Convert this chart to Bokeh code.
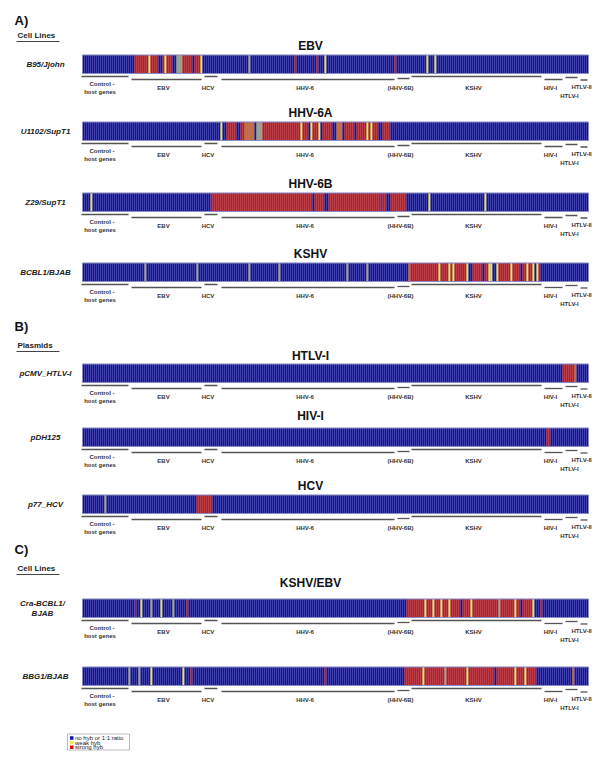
from bokeh.plotting import figure
from bokeh.models import Range1d, ColumnDataSource
from bokeh.core.properties import value
from bokeh.embed import file_html
from bokeh.resources import INLINE

# ---------------- data ----------------
N_COLS = 253  # probes (columns) per array strip

# genome groups: (label, first column, last column)
groups = ["Control -\nhost genes", "EBV", "HCV", "HHV-6", "(HHV-6B)", "KSHV", "HIV-I", "HTLV-I", "HTLV-II"]
group_start = [-1, 24, 60.5, 69, 157, 164, 230.5, 241, 248.5]
group_end = [23.5, 60, 68, 156.5, 164, 230, 240.5, 248, 253]

# hybridisation classes: B = no hyb or 1:1, Y = weak hyb, R = strong hyb,
# G = faint/grey probe, O = orange (mixed), P = purple (mixed)
class_color = {"B": "#1212aa", "Y": "#f0e640", "R": "#d41210", "G": "#a4a47c",
               "O": "#e2601a", "P": "#86187e"}

sample_names = ["B95/Jjohn", "U1102/SupT1", "Z29/SupT1", "BCBL1/BJAB",
                "pCMV_HTLV-I", "pDH125", "p77_HCV", "Cra-BCBL1/\nBJAB", "BBG1/BJAB"]
virus_titles = ["EBV", "HHV-6A", "HHV-6B", "KSHV", "HTLV-I", "HIV-I", "HCV", "KSHV/EBV", ""]

# non-blue runs per strip: (first col, last col, class)
runs_b95 = [(26, 32, "R"), (33, 33, "Y"), (34, 37, "R"), (38, 39, "B"), (40, 40, "R"),
            (41, 41, "Y"), (42, 44, "R"), (47, 49, "G"), (50, 54, "R"), (55, 55, "B"),
            (56, 58, "R"), (59, 59, "Y"), (83, 83, "G"), (106, 106, "R"), (117, 117, "R"),
            (121, 121, "Y"), (156, 156, "R"), (172, 172, "Y"), (176, 176, "Y")]
runs_u1102 = [(69, 69, "Y"), (72, 76, "R"), (79, 80, "R"), (81, 85, "O"), (87, 89, "G"),
              (90, 97, "R"), (98, 108, "R"), (109, 109, "Y"), (110, 112, "R"), (114, 114, "Y"),
              (115, 117, "R"), (118, 118, "Y"), (120, 124, "R"), (127, 129, "O"),
              (131, 135, "R"), (137, 141, "R"), (142, 142, "Y"), (143, 143, "R"),
              (144, 144, "Y"), (145, 147, "R"), (150, 153, "R")]
runs_z29 = [(4, 4, "Y"), (64, 64, "P"), (65, 114, "R"), (116, 120, "R"), (123, 148, "R"),
            (149, 149, "P"), (150, 151, "R"), (154, 161, "R"), (173, 173, "Y"), (201, 201, "Y")]
runs_bcbl1 = [(31, 31, "G"), (57, 57, "G"), (83, 83, "G"), (98, 98, "G"), (132, 132, "G"),
              (142, 142, "G"), (163, 163, "O"), (164, 177, "R"), (178, 178, "Y"),
              (179, 182, "R"), (183, 183, "Y"), (184, 184, "R"), (185, 185, "Y"),
              (186, 191, "R"), (192, 192, "Y"), (195, 199, "R"), (201, 202, "R"),
              (203, 203, "Y"), (204, 204, "Y"), (207, 207, "Y"), (208, 213, "R"),
              (214, 214, "Y"), (215, 218, "R"), (220, 221, "R"), (222, 222, "Y"),
              (223, 224, "R"), (225, 225, "Y"), (227, 227, "Y"), (228, 228, "R")]
runs_pcmv = [(240, 245, "R"), (246, 246, "O")]
runs_pdh125 = [(232, 233, "R")]
runs_p77 = [(11, 11, "G"), (57, 64, "R")]
runs_cra = [(26, 26, "P"), (29, 29, "Y"), (34, 34, "G"), (39, 39, "Y"), (45, 45, "G"),
            (52, 52, "R"), (162, 170, "R"), (171, 171, "Y"), (172, 174, "R"), (175, 175, "Y"),
            (176, 178, "R"), (179, 179, "Y"), (180, 182, "R"), (183, 183, "Y"), (184, 188, "R"),
            (190, 193, "R"), (194, 194, "Y"), (195, 207, "R"), (208, 208, "G"), (209, 215, "R"),
            (216, 216, "Y"), (217, 218, "R"), (220, 224, "R"), (225, 225, "Y"), (229, 229, "R")]
runs_bbg1 = [(23, 23, "G"), (28, 28, "G"), (34, 34, "Y"), (50, 50, "Y"), (54, 54, "R"),
             (121, 121, "R"), (161, 169, "R"), (170, 170, "Y"), (171, 180, "R"), (181, 181, "G"),
             (182, 191, "R"), (192, 192, "Y"), (193, 205, "R"), (206, 206, "B"), (207, 215, "R"),
             (216, 216, "Y"), (217, 220, "R"), (221, 221, "Y"), (222, 226, "R"), (245, 245, "O")]
strip_runs = [runs_b95, runs_u1102, runs_z29, runs_bcbl1, runs_pcmv, runs_pdh125,
              runs_p77, runs_cra, runs_bbg1]

legend_labels = ["no hyb or 1:1 ratio", "weak hyb", "strong hyb"]
legend_classes = ["B", "Y", "R"]

# ---------------- layout (page pixels) ----------------
strip_top = [54.5, 121.5, 192.5, 262.5, 363.5, 427.5, 494.5, 598.5, 666.5]
strip_h = 18.5
title_y = [45, 112, 183, 253, 355, 415, 485, 582, None]
line_off = [3, 6, 3, 6, 5, 3, 6, 4, 6.5]
sections = [("A)", 19.5, "Cell Lines", 35), ("B)", 326, "Plasmids", 345),
            ("C)", 549, "Cell Lines", 568)]

FONT = value("Liberation Sans")
W, H = 600, 766
p = figure(width=W, height=H, output_backend="svg", toolbar_location=None,
           x_range=Range1d((0 - 82) / 2, (W - 82) / 2),
           y_range=Range1d(H, 0), min_border=0,
           x_axis_location=None, y_axis_location=None)
p.grid.visible = False
p.outline_line_color = None
p.background_fill_color = "white"

# cells
cl, cr, ct, cb, cc = [], [], [], [], []
for s, runs in enumerate(strip_runs):
    codes = ["B"] * N_COLS
    for a, b, k in runs:
        for i in range(a, b + 1):
            if 0 <= i < N_COLS:
                codes[i] = k
    for i, k in enumerate(codes):
        cl.append(i)
        cr.append(i + 1)
        ct.append(strip_top[s])
        cb.append(strip_top[s] + strip_h)
        cc.append(class_color[k])
p.quad(left="left", right="right", top="top", bottom="bottom", fill_color="color",
       line_color="#000040", line_alpha=0.35, line_width=0.3,
       source=ColumnDataSource(dict(left=cl, right=cr, top=ct, bottom=cb, color=cc)))
# strip borders
p.quad(left=[0] * len(strip_top), right=[N_COLS] * len(strip_top), top=strip_top,
       bottom=[t + strip_h for t in strip_top], fill_color=None,
       line_color="#8a8ac8", line_width=1)

# group bars and labels under every strip
sx0, sx1, sy = [], [], []
tx, ty, tt = [], [], []
for s, top in enumerate(strip_top):
    base = top + strip_h
    for g, name in enumerate(groups):
        sx0.append(group_start[g] + 0.5)
        sx1.append(group_end[g] - 0.5)
        sy.append(base + line_off[g])
        cx = (group_start[g] + group_end[g]) / 2
        if name.startswith("Control"):
            tx += [cx - 1.5, cx - 2.5]
            ty += [base + 10, base + 18]
            tt += ["Control -", "host genes"]
        elif name == "HTLV-I":
            tx.append(cx - 1)
            ty.append(base + 22.5)
            tt.append(name)
        elif name == "HTLV-II":
            tx.append(cx - 1.2)
            ty.append(base + 13.5)
            tt.append(name)
        else:
            tx.append(cx - 1.5)
            ty.append(base + 14)
            tt.append(name)
p.segment(x0=sx0, x1=sx1, y0=sy, y1=sy, line_color="#555555", line_width=1.3)
p.text(x=tx, y=ty, text=tt, text_font=FONT, text_font_style="bold",
       text_font_size="6px", text_color="#333333", text_align="center",
       text_baseline="middle")

# virus titles
vx, vy, vt = [], [], []
for s, t in enumerate(virus_titles):
    if t:
        vx.append((310 - 82) / 2)
        vy.append(title_y[s])
        vt.append(t)
p.text(x=vx, y=vy, text=vt, text_font=FONT, text_font_style="bold",
       text_font_size="12px", text_color="#111111", text_align="center",
       text_baseline="middle")

# sample names
nx, ny, nt = [], [], []
for s, name in enumerate(sample_names):
    mid = strip_top[s] + strip_h / 2
    parts = name.split("\n")
    for j, part in enumerate(parts):
        nx.append((45 - 82) / 2 if len(parts) == 1 else (42 - 82) / 2)
        ny.append(mid + (j - (len(parts) - 1) / 2) * 10)
        nt.append(part)
p.text(x=nx, y=ny, text=nt, text_font=FONT, text_font_style="bold italic",
       text_font_size="8px", text_color="#222222", text_align="center",
       text_baseline="middle")

# section headers
for lab, ly, sub, sy_ in sections:
    p.text(x=[(14 - 82) / 2], y=[ly], text=[lab], text_font=FONT, text_font_style="bold",
           text_font_size="13px", text_color="#111111", text_align="left",
           text_baseline="middle")
    p.text(x=[(17 - 82) / 2], y=[sy_], text=[sub], text_font=FONT, text_font_style="bold",
           text_font_size="8px", text_color="#222222", text_align="left",
           text_baseline="middle")
    p.segment(x0=[(16 - 82) / 2], x1=[(59 - 82) / 2], y0=[sy_ + 6], y1=[sy_ + 6],
              line_color="#444444", line_width=1)

# legend
lx0, lx1 = (67 - 82) / 2, (129 - 82) / 2
p.quad(left=[lx0], right=[lx1], top=[733.5], bottom=[749.5], fill_color="white",
       line_color="#aaaaaa", line_width=0.8)
for j, (lab, k) in enumerate(zip(legend_labels, legend_classes)):
    yy = 737.5 + j * 4.6
    p.quad(left=[(69.5 - 82) / 2], right=[(73 - 82) / 2], top=[yy - 1.7], bottom=[yy + 1.7],
           fill_color=class_color[k], line_color=None)
    p.text(x=[(74.5 - 82) / 2], y=[yy], text=[lab], text_font=FONT,
           text_font_size="6px", text_color="#222222", text_align="left",
           text_baseline="middle")

open("out.html", "w").write(file_html(p, INLINE))
